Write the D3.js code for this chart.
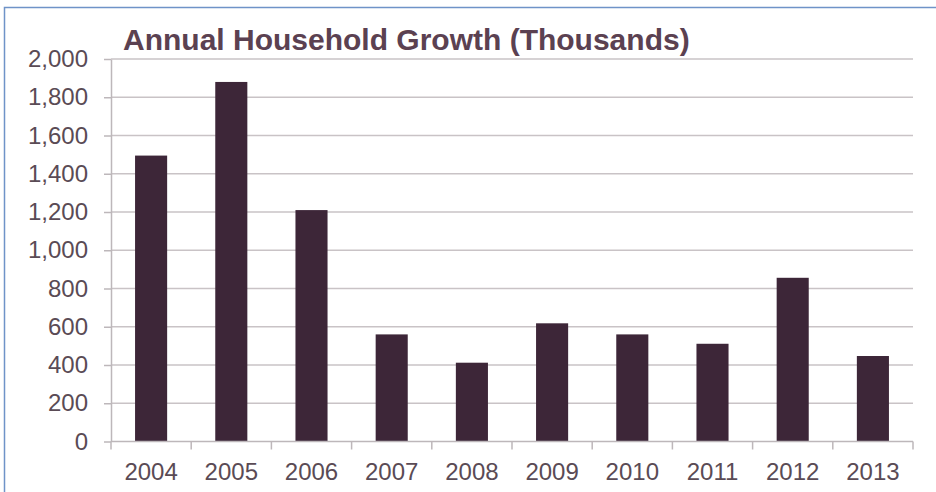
<!DOCTYPE html>
<html>
<head>
<meta charset="utf-8">
<script src="https://d3js.org/d3.v7.min.js"></script>
<style>
  body { margin: 0; background: #fff; }
  svg { display: block; font-family: Arial, "Liberation Sans", sans-serif; }
</style>
</head>
<body>
<div id="chart"></div>
<script>
  // chart data
  var years = ["2004", "2005", "2006", "2007", "2008", "2009", "2010", "2011", "2012", "2013"];
  var growth = [1495, 1880, 1210, 560, 412, 618, 560, 511, 856, 447];
  var yTicks = [0, 200, 400, 600, 800, 1000, 1200, 1400, 1600, 1800, 2000];
  var title = "Annual Household Growth (Thousands)";

  var W = 936, H = 492;
  var plotLeft = 111, plotRight = 913, plotTop = 59, plotBottom = 441.5;

  var svg = d3.select("#chart").append("svg")
    .attr("width", W)
    .attr("height", H);

  // blue frame round the picture
  svg.append("path")
    .attr("d", "M4.5," + H + "V7.5H" + W)
    .attr("fill", "none")
    .attr("stroke", "#6f93c8")
    .attr("stroke-width", 1.5);

  var x = d3.scaleBand().domain(years).range([plotLeft, plotRight]).paddingInner(0.6).paddingOuter(0.3);
  var y = d3.scaleLinear().domain([0, 2000]).range([plotBottom, plotTop]);

  // gridlines
  svg.append("g").selectAll("line")
    .data(yTicks.filter(function (d) { return d > 0; }))
    .enter().append("line")
      .attr("x1", plotLeft).attr("x2", plotRight)
      .attr("y1", function (d) { return y(d); })
      .attr("y2", function (d) { return y(d); })
      .attr("stroke", "#c9c3c6")
      .attr("stroke-width", 1.5);

  // bars
  svg.append("g").selectAll("rect")
    .data(growth)
    .enter().append("rect")
      .attr("x", function (d, i) { return x(years[i]); })
      .attr("width", x.bandwidth())
      .attr("y", function (d) { return y(d); })
      .attr("height", function (d) { return y(0) - y(d); })
      .attr("fill", "#3d2638");

  // y axis
  var yAxis = svg.append("g")
    .attr("transform", "translate(" + plotLeft + ",0)")
    .call(d3.axisLeft(y).tickValues(yTicks).tickFormat(d3.format(",")).tickSize(7).tickPadding(16).tickSizeOuter(0));
  yAxis.select(".domain").attr("stroke", "#bdb7ba").attr("stroke-width", 1.5);
  yAxis.selectAll(".tick line").attr("stroke", "#bdb7ba").attr("stroke-width", 1.5);
  yAxis.selectAll("text")
    .attr("fill", "#5a4b55")
    .style("font-size", "24px")
    .style("font-family", "Arial, 'Liberation Sans', sans-serif");

  // x axis: baseline, boundary ticks, labels
  var xg = svg.append("g");
  xg.append("line")
    .attr("x1", plotLeft).attr("x2", plotRight)
    .attr("y1", y(0)).attr("y2", y(0))
    .attr("stroke", "#bdb7ba").attr("stroke-width", 1.5);
  var step = x.step();
  var edges = d3.range(years.length + 1).map(function (i) { return plotLeft + i * step; });
  xg.selectAll(".xt")
    .data(edges)
    .enter().append("line")
      .attr("class", "xt")
      .attr("x1", function (d) { return d; }).attr("x2", function (d) { return d; })
      .attr("y1", y(0)).attr("y2", y(0) + 8)
      .attr("stroke", "#bdb7ba").attr("stroke-width", 1.5);
  xg.selectAll("text")
    .data(years)
    .enter().append("text")
      .attr("x", function (d) { return x(d) + x.bandwidth() / 2; })
      .attr("y", 480)
      .attr("text-anchor", "middle")
      .attr("fill", "#5a4b55")
      .style("font-size", "24px")
      .text(function (d) { return d; });

  // title
  svg.append("text")
    .attr("x", 123)
    .attr("y", 50)
    .attr("fill", "#5b4151")
    .style("font-size", "30px")
    .style("font-weight", "bold")
    .text(title);
</script>
</body>
</html>
